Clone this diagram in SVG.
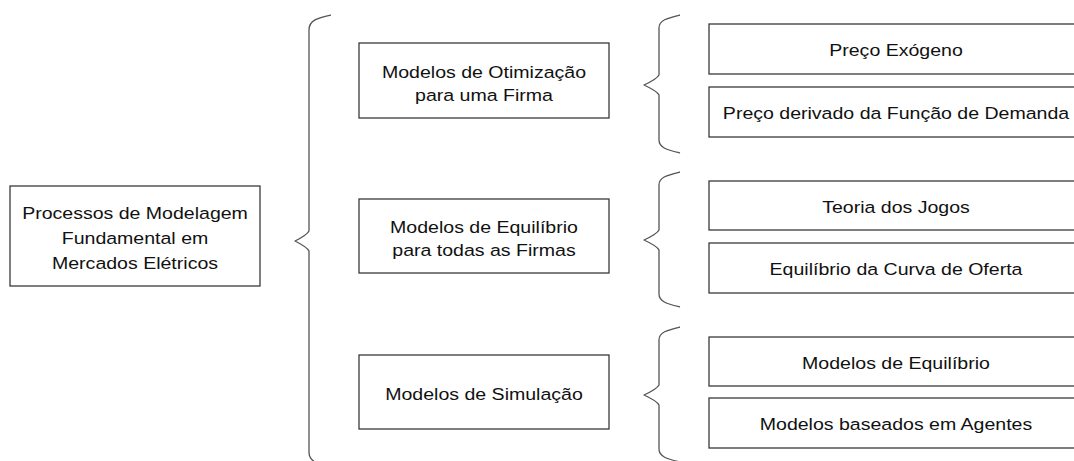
<svg xmlns="http://www.w3.org/2000/svg" width="1074" height="461" viewBox="0 0 1074 461">
<style>
  .box { fill: #ffffff; stroke: #3a3a3a; stroke-width: 1.3; }
  .brace { fill: none; stroke: #555555; stroke-width: 1.3; stroke-linejoin: round; }
  text { font-family: "Liberation Sans", Arial, sans-serif; font-size: 17px; fill: #111111; text-anchor: middle; }
</style>
<rect width="1074" height="461" fill="#ffffff"/>
<g id="connectors">
  <path class="brace" d="M331,15 C318,18 309,20 309,30 L309,231 Q307,235 295,241 Q307,247 309,251 L309,452 C309,462 318,464 331,467"/>
  <path class="brace" d="M680,15 C668,18 659,20 659,28 L659,75 Q657,79 644,85 Q657,91 659,95 L659,140 C659,148 668,150 680,153"/>
  <path class="brace" d="M680,172 C668,175 659,177 659,185 L659,230 Q657,234 644,240 Q657,246 659,250 L659,294 C659,302 668,304 680,307"/>
  <path class="brace" d="M680,327 C668,330 659,332 659,340 L659,385 Q657,389 644,395 Q657,401 659,405 L659,449 C659,457 668,459 680,462"/>
</g>
<g id="root">
  <rect class="box" x="10" y="186" width="250" height="100"/>
  <text transform="translate(135,219) scale(1.15,1)">Processos de Modelagem</text>
  <text transform="translate(135,244) scale(1.15,1)">Fundamental em</text>
  <text transform="translate(135,269) scale(1.15,1)">Mercados Elétricos</text>
</g>
<g id="otimizacao">
  <rect class="box" x="359" y="43" width="250" height="75"/>
  <text transform="translate(484,78) scale(1.15,1)">Modelos de Otimização</text>
  <text transform="translate(484,101) scale(1.15,1)">para uma Firma</text>
</g>
<g id="equilibrio">
  <rect class="box" x="359" y="199" width="250" height="74"/>
  <text transform="translate(484,233) scale(1.15,1)">Modelos de Equilíbrio</text>
  <text transform="translate(484,256) scale(1.15,1)">para todas as Firmas</text>
</g>
<g id="simulacao">
  <rect class="box" x="359" y="355" width="250" height="74"/>
  <text transform="translate(484,400) scale(1.15,1)">Modelos de Simulação</text>
</g>
<g id="preco-exogeno">
  <rect class="box" x="709" y="24" width="375" height="50"/>
  <text transform="translate(896,56) scale(1.15,1)">Preço Exógeno</text>
</g>
<g id="preco-demanda">
  <rect class="box" x="709" y="87" width="375" height="50"/>
  <text transform="translate(896,119) scale(1.15,1)">Preço derivado da Função de Demanda</text>
</g>
<g id="teoria-jogos">
  <rect class="box" x="709" y="181" width="375" height="49"/>
  <text transform="translate(896,213) scale(1.15,1)">Teoria dos Jogos</text>
</g>
<g id="curva-oferta">
  <rect class="box" x="709" y="243" width="375" height="50"/>
  <text transform="translate(896,275) scale(1.15,1)">Equilíbrio da Curva de Oferta</text>
</g>
<g id="modelos-equilibrio">
  <rect class="box" x="709" y="337" width="375" height="49"/>
  <text transform="translate(896,369) scale(1.15,1)">Modelos de Equilíbrio</text>
</g>
<g id="agentes">
  <rect class="box" x="709" y="398" width="375" height="50"/>
  <text transform="translate(896,430) scale(1.15,1)">Modelos baseados em Agentes</text>
</g>
</svg>
